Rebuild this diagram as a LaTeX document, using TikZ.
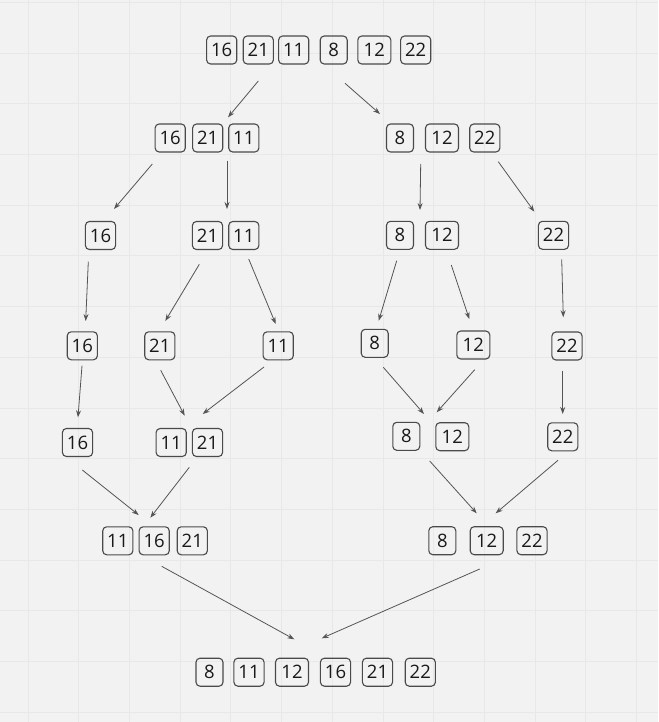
\documentclass[tikz,border=0pt]{standalone}
\usepackage{fontspec}
\setmainfont{Open Sans}
\usetikzlibrary{arrows.meta}

\definecolor{fondo}{HTML}{F2F2F2}
\definecolor{rejilla}{HTML}{E8E8E8}
\definecolor{borde}{HTML}{4A4A4A}
\definecolor{linea}{HTML}{555555}

\begin{document}
\begin{tikzpicture}[x=1pt, y=-1pt]

	\tikzstyle{celda}=[draw=borde, line width=1.1pt, rounded corners=4pt, minimum height=28pt, minimum width=27pt, inner xsep=4.5pt, inner ysep=0pt, text=black!90, font=\fontsize{18.5}{20}\selectfont]
	\tikzstyle{ancha}=[minimum width=33pt]
	\tikzstyle{flecha}=[-{Stealth[length=7pt, width=5pt]}, draw=linea, line width=0.8pt]

	% fondo y rejilla
	\fill[fondo] (0, 0) rectangle (658, 722);
	\useasboundingbox (0, 0) rectangle (658, 722);
	\foreach \i in {0,...,12} {
		\draw[rejilla, line width=0.7pt] (28 + 50.7*\i, 0) -- (28 + 50.7*\i, 722);
	}
	\foreach \i in {0,...,14} {
		\draw[rejilla, line width=0.7pt] (0, 2.3 + 50.7*\i) -- (658, 2.3 + 50.7*\i);
	}

	\node[celda] (a_1) at (221.7, 50) {16}; % FILA 1
	\node[celda] (a_2) at (258.3, 50) {21}; % FILA 1
	\node[celda] (a_3) at (293.7, 50) {11}; % FILA 1
	\node[celda] (a_4) at (333.7, 50) {8}; % FILA 1
	\node[celda, ancha] (a_5) at (374.3, 50) {12}; % FILA 1
	\node[celda] (a_6) at (415.7, 50) {22}; % FILA 1

	\node[celda] (b_1) at (170.2, 138) {16}; % FILA 2
	\node[celda] (b_2) at (207.7, 138) {21}; % FILA 2
	\node[celda] (b_3) at (243.8, 138) {11}; % FILA 2
	\node[celda] (b_4) at (400, 138) {8}; % FILA 2
	\node[celda, ancha] (b_5) at (442, 138) {12}; % FILA 2
	\node[celda] (b_6) at (484.8, 138) {22}; % FILA 2

	\node[celda] (c_1) at (100.5, 235.5) {16}; % FILA 3
	\node[celda] (c_2) at (207.5, 235.5) {21}; % FILA 3
	\node[celda] (c_3) at (243.8, 235.5) {11}; % FILA 3
	\node[celda] (c_4) at (400, 235.3) {8}; % FILA 3
	\node[celda, ancha] (c_5) at (442, 235.3) {12}; % FILA 3
	\node[celda] (c_6) at (553.5, 235.3) {22}; % FILA 3

	\node[celda] (d_1) at (82.3, 345.8) {16}; % FILA 4
	\node[celda] (d_2) at (159.8, 345.8) {21}; % FILA 4
	\node[celda] (d_3) at (278.2, 345.8) {11}; % FILA 4
	\node[celda] (d_4) at (374.7, 343.3) {8}; % FILA 4
	\node[celda, ancha] (d_5) at (473.3, 345) {12}; % FILA 4
	\node[celda] (d_6) at (567, 346) {22}; % FILA 4

	\node[celda] (e_1) at (77.5, 442.5) {16}; % FILA 5
	\node[celda] (e_2) at (171.2, 442.5) {11}; % FILA 5
	\node[celda] (e_3) at (207.5, 442.5) {21}; % FILA 5
	\node[celda] (e_4) at (406.3, 436.3) {8}; % FILA 5
	\node[celda, ancha] (e_5) at (452.3, 436.7) {12}; % FILA 5
	\node[celda] (e_6) at (562.8, 436.8) {22}; % FILA 5

	\node[celda] (f_1) at (117.8, 540.8) {11}; % FILA 6
	\node[celda] (f_2) at (154.2, 540.8) {16}; % FILA 6
	\node[celda] (f_3) at (192.3, 540.8) {21}; % FILA 6
	\node[celda] (f_4) at (442.3, 540.7) {8}; % FILA 6
	\node[celda, ancha] (f_5) at (486.7, 540.7) {12}; % FILA 6
	\node[celda] (f_6) at (532, 540.7) {22}; % FILA 6

	\node[celda] (g_1) at (209.5, 672.2) {8}; % RESULTADO
	\node[celda] (g_2) at (249, 672.2) {11}; % RESULTADO
	\node[celda, ancha] (g_3) at (292, 672.2) {12}; % RESULTADO
	\node[celda] (g_4) at (335.5, 672.2) {16}; % RESULTADO
	\node[celda] (g_5) at (377.5, 672.2) {21}; % RESULTADO
	\node[celda] (g_6) at (420.3, 672.2) {22}; % RESULTADO

	% extremos de las flechas
	\coordinate (s_1) at (258.3, 81);    \coordinate (t_1) at (228, 117.3);
	\coordinate (s_2) at (345, 83.3);    \coordinate (t_2) at (380, 114);
	\coordinate (s_3) at (152.3, 164);   \coordinate (t_3) at (114, 209);
	\coordinate (s_4) at (227, 160.7);   \coordinate (t_4) at (227, 209);
	\coordinate (s_5) at (420.7, 164);   \coordinate (t_5) at (420, 210);
	\coordinate (s_6) at (498.3, 161.7); \coordinate (t_6) at (534.3, 211.7);
	\coordinate (s_7) at (88.3, 261.7);  \coordinate (t_7) at (85.7, 321);
	\coordinate (s_8) at (199.3, 264.3); \coordinate (t_8) at (165.3, 321);
	\coordinate (s_9) at (248.7, 259);   \coordinate (t_9) at (275.7, 324);
	\coordinate (s_10) at (396.7, 260.7); \coordinate (t_10) at (378.7, 320.7);
	\coordinate (s_11) at (451.3, 265);   \coordinate (t_11) at (469.3, 319);
	\coordinate (s_12) at (561.7, 259.3); \coordinate (t_12) at (563.3, 317.3);
	\coordinate (s_13) at (82, 365.7);    \coordinate (t_13) at (78, 417.3);
	\coordinate (s_14) at (160.7, 370.3); \coordinate (t_14) at (184.7, 415.7);
	\coordinate (s_15) at (264, 367);     \coordinate (t_15) at (202.7, 414);
	\coordinate (s_16) at (383.3, 367.3); \coordinate (t_16) at (424, 414);
	\coordinate (s_17) at (474.7, 369.7); \coordinate (t_17) at (436.7, 412.3);
	\coordinate (s_18) at (562.7, 370.7); \coordinate (t_18) at (562.7, 414);
	\coordinate (s_19) at (82.3, 470);    \coordinate (t_19) at (138.7, 515);
	\coordinate (s_20) at (189.3, 467.3); \coordinate (t_20) at (150.3, 517.7);
	\coordinate (s_21) at (429.7, 461);   \coordinate (t_21) at (476.7, 513.3);
	\coordinate (s_22) at (558, 460.3);   \coordinate (t_22) at (495.7, 513.3);
	\coordinate (s_23) at (161.7, 566.3); \coordinate (t_23) at (294.3, 639.3);
	\coordinate (s_24) at (479.7, 569);   \coordinate (t_24) at (321.7, 638.3);

	\foreach \k in {1,...,24} {
		\draw[flecha] (s_\k) -- (t_\k);
	}

\end{tikzpicture}
\end{document}
